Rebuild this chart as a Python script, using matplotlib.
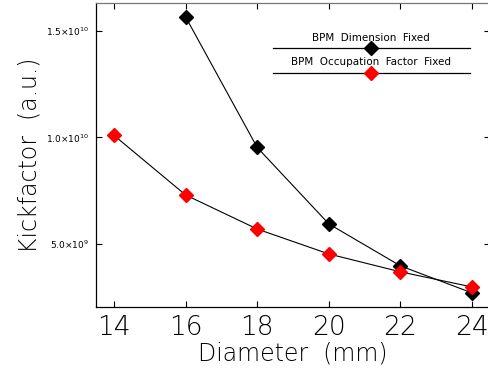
import matplotlib.pyplot as plt
from matplotlib.lines import Line2D

plt.rcParams['font.family'] = ['DejaVu Sans']

diameter = [14, 16, 18, 20, 22, 24]
# BPM dimension fixed (no value at 14 mm)
dim_x = [16, 18, 20, 22, 24]
dim_y = [1.566e10, 9.53e9, 5.94e9, 3.97e9, 2.70e9]
# BPM occupation factor fixed
occ_x = [14, 16, 18, 20, 22, 24]
occ_y = [1.01e10, 7.30e9, 5.70e9, 4.53e9, 3.69e9, 2.98e9]

yticks = [5.0e9, 1.0e10, 1.5e10]
ytick_labels = [r'5.0$\times$10$^{9}$', r'1.0$\times$10$^{10}$', r'1.5$\times$10$^{10}$']
legend_labels = ['BPM  Dimension  Fixed', 'BPM  Occupation  Factor  Fixed']

fig = plt.figure(figsize=(4.88, 3.72), dpi=100)
ax = fig.add_axes([96 / 488, 65 / 372, 394 / 488, 304 / 372])

ax.plot(dim_x, dim_y, color='black', lw=0.8, marker='D', ms=7.5,
        mfc='black', mec='black', zorder=3)
ax.plot(occ_x, occ_y, color='black', lw=0.8, marker='D', ms=7.5,
        mfc='red', mec='red', zorder=3)

ax.set_xlim(13.5, 24.5)
ax.set_ylim(2.04e9, 1.631e10)
ax.set_xticks(diameter)
ax.set_xticklabels([str(d) for d in diameter], fontsize=19, fontweight='light')
ax.set_yticks(yticks)
ax.set_yticklabels(ytick_labels, fontsize=6.5)
ax.tick_params(direction='in', length=4, width=0.8, top=True, right=True)
ax.tick_params(axis='x', pad=6)
ax.tick_params(axis='y', pad=5)
ax.spines['top'].set_color('#777777')
for s in ax.spines.values():
    s.set_linewidth(0.9)

ax.set_xlabel('Diameter  (mm)', fontsize=17, fontweight='light', labelpad=1)
ax.set_ylabel('Kickfactor  (a.u.)', fontsize=17, fontweight='light', labelpad=3)

# legend drawn by hand
for ty, ly, fc, lab in [(0.885, 0.852, 'black', legend_labels[0]),
                        (0.806, 0.770, 'red', legend_labels[1])]:
    ax.text(0.698, ty, lab, transform=ax.transAxes, ha='center', va='center',
            fontsize=7.5)
    ax.add_line(Line2D([0.449, 0.949], [ly, ly], transform=ax.transAxes,
                       color='black', lw=0.9))
    ax.plot([0.698], [ly], transform=ax.transAxes, marker='D', ms=7.5,
            mfc=fc, mec=fc, ls='none', zorder=4)

fig.savefig('out.png', dpi=100)
